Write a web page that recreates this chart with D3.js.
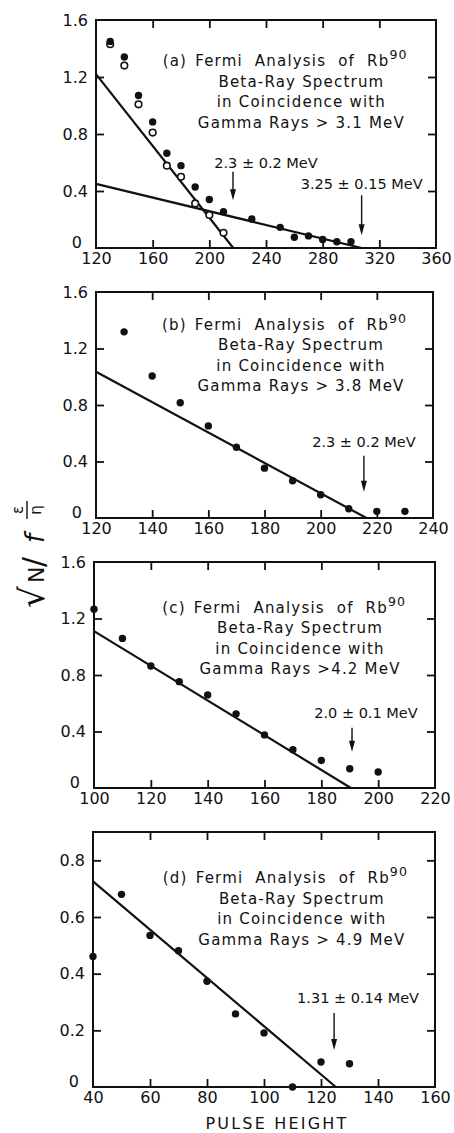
<!DOCTYPE html>
<html>
<head>
<meta charset="utf-8">
<script src="https://cdn.jsdelivr.net/npm/d3@7"></script>
<style>
  body { margin: 0; background: #fff; }
  svg { display: block; }
  text { font-family: "DejaVu Sans", sans-serif; fill: #111; }
</style>
</head>
<body>
<svg id="chart" width="454" height="1133"></svg>
<script>
// panel (a): Gamma > 3.1 MeV, filled and open points
const aFilledX = [130, 140, 150, 160, 170, 180, 190, 200, 210, 230, 250, 260, 270, 280, 290, 300];
const aFilledY = [1.45, 1.34, 1.07, 0.885, 0.665, 0.578, 0.428, 0.34, 0.255, 0.203, 0.145, 0.075, 0.085, 0.06, 0.044, 0.044];
const aOpenX = [130, 140, 150, 160, 170, 180, 190, 200, 210];
const aOpenY = [1.43, 1.28, 1.008, 0.81, 0.578, 0.50, 0.313, 0.232, 0.107];
const aFitSteep = [[120, 1.22], [216.9, 0]];
const aFitShallow = [[120, 0.45], [307.5, 0]];

// panel (b): Gamma > 3.8 MeV
const bX = [130, 140, 150, 160, 170, 180, 190, 200, 210, 220, 230];
const bY = [1.318, 1.005, 0.816, 0.652, 0.501, 0.353, 0.264, 0.165, 0.066, 0.047, 0.047];
const bFit = [[120, 1.035], [216.3, 0]];

// panel (c): Gamma > 4.2 MeV
const cX = [100, 110, 120, 130, 140, 150, 160, 170, 180, 190, 200];
const cY = [1.266, 1.059, 0.864, 0.753, 0.659, 0.525, 0.376, 0.271, 0.195, 0.136, 0.113];
const cFit = [[100, 1.111], [190.4, 0]];

// panel (d): Gamma > 4.9 MeV
const dX = [40, 50, 60, 70, 80, 90, 100, 110, 120, 130];
const dY = [0.461, 0.68, 0.535, 0.481, 0.373, 0.258, 0.191, 0.0, 0.088, 0.082];
const dFit = [[40, 0.726], [125.2, 0]];

// tick values
const xTicksA = [120, 160, 200, 240, 280, 320, 360];
const xTicksB = [120, 140, 160, 180, 200, 220, 240];
const xTicksC = [100, 120, 140, 160, 180, 200, 220];
const xTicksD = [40, 60, 80, 100, 120, 140, 160];
const yTicks16 = [0, 0.4, 0.8, 1.2, 1.6];
const yTicksD = [0, 0.2, 0.4, 0.6, 0.8];

// titles and end-point labels
const gammaLabels = ["Gamma Rays > 3.1 MeV", "Gamma Rays > 3.8 MeV", "Gamma Rays >4.2 MeV", "Gamma Rays > 4.9 MeV"];
const letters = ["(a)", "(b)", "(c)", "(d)"];
const endLabels = [
    [{ text: "2.3 ± 0.2 MeV", x: 240, y: 0.56, ax: 216.7, y0: 0.535, y1: 0.335 },
     { text: "3.25 ± 0.15 MeV", x: 307.5, y: 0.414, ax: 307.5, y0: 0.37, y1: 0.09 }],
    [{ text: "2.3 ± 0.2 MeV", x: 215.4, y: 0.50, ax: 215.4, y0: 0.44, y1: 0.186 }],
    [{ text: "2.0 ± 0.1 MeV", x: 195.7, y: 0.496, ax: 190.8, y0: 0.427, y1: 0.257 }],
    [{ text: "1.31 ± 0.14 MeV", x: 133, y: 0.298, ax: 124.6, y0: 0.261, y1: 0.131 }]
];
const titleAnchors = [[265, 1.277], [193, 1.331], [172.5, 1.239], [113.3, 0.72]];

const svg = d3.select("#chart");
svg.append("rect").attr("width", 454).attr("height", 1133).attr("fill", "#fff");

const panels = [
    { box: [96, 436, 20, 248], xd: [120, 360], yd: [0, 1.6], xt: xTicksA, yt: yTicks16,
      filled: d3.zip(aFilledX, aFilledY), open: d3.zip(aOpenX, aOpenY), fits: [aFitSteep, aFitShallow] },
    { box: [96, 433, 292, 518], xd: [120, 240], yd: [0, 1.6], xt: xTicksB, yt: yTicks16,
      filled: d3.zip(bX, bY), open: [], fits: [bFit] },
    { box: [94, 435, 562, 788], xd: [100, 220], yd: [0, 1.6], xt: xTicksC, yt: yTicks16,
      filled: d3.zip(cX, cY), open: [], fits: [cFit] },
    { box: [93, 435, 832, 1087], xd: [40, 160], yd: [0, 0.9], xt: xTicksD, yt: yTicksD,
      filled: d3.zip(dX, dY), open: [], fits: [dFit] }
];

const fmtY = d => d === 0 ? "0" : d.toFixed(1);
const textSize = 15, textSpacing = 1.2;

panels.forEach((p, i) => {
    const [x0, x1, y0, y1] = p.box;
    const x = d3.scaleLinear().domain(p.xd).range([x0, x1]);
    const y = d3.scaleLinear().domain(p.yd).range([y1, y0]);
    const g = svg.append("g");

    const inner = p.xt.slice(1, -1);
    const innerY = p.yt.filter(v => v > p.yd[0] && v < p.yd[1]);

    // axes with inward ticks
    const bottom = g.append("g").attr("transform", `translate(0,${y1})`)
        .call(d3.axisBottom(x).tickValues(p.xt).tickSize(0).tickPadding(4).tickFormat(d3.format("d")));
    bottom.selectAll("text").attr("font-size", 16).attr("dy", "0.75em");
    g.append("g").attr("transform", `translate(0,${y1})`)
        .call(d3.axisBottom(x).tickValues(inner).tickSize(-8).tickFormat(""));
    g.append("g").attr("transform", `translate(0,${y0})`)
        .call(d3.axisTop(x).tickValues(inner).tickSize(-8).tickFormat(""));
    const left = g.append("g").attr("transform", `translate(${x0},0)`)
        .call(d3.axisLeft(y).tickValues(p.yt).tickSize(0).tickPadding(8).tickFormat(fmtY));
    left.selectAll("text").attr("font-size", 16);
    // zero label sits a little up and left, clear of the first x label
    left.selectAll(".tick").filter(d => d === 0).select("text")
        .attr("dy", "-0.05em").attr("x", -14);
    g.append("g").attr("transform", `translate(${x0},0)`)
        .call(d3.axisLeft(y).tickValues(innerY).tickSize(-8).tickFormat(""));
    g.append("g").attr("transform", `translate(${x1},0)`)
        .call(d3.axisRight(y).tickValues(innerY).tickSize(-8).tickFormat(""));
    g.selectAll(".domain").remove();
    g.selectAll(".tick line").attr("stroke", "#111").attr("stroke-width", 1.8);

    g.append("rect").attr("x", x0).attr("y", y0).attr("width", x1 - x0).attr("height", y1 - y0)
        .attr("fill", "none").attr("stroke", "#111").attr("stroke-width", 2);

    // fitted lines
    const line = d3.line().x(d => x(d[0])).y(d => y(d[1]));
    p.fits.forEach(f => {
        g.append("path").attr("d", line(f)).attr("fill", "none")
            .attr("stroke", "#111").attr("stroke-width", 2.2);
    });

    // points
    g.selectAll(".op").data(p.open).enter().append("circle")
        .attr("cx", d => x(d[0])).attr("cy", d => y(d[1])).attr("r", 3.3)
        .attr("fill", "#fff").attr("stroke", "#111").attr("stroke-width", 1.6);
    g.selectAll(".fp").data(p.filled).enter().append("circle")
        .attr("cx", d => x(d[0])).attr("cy", d => y(d[1])).attr("r", 3.7)
        .attr("fill", "#111");

    // title block
    const [tx, ty] = titleAnchors[i];
    const cx = x(tx), by = y(ty);
    const t1 = g.append("text").attr("x", cx).attr("y", by).attr("text-anchor", "middle")
        .attr("font-size", textSize).attr("letter-spacing", textSpacing).attr("word-spacing", 6);
    t1.append("tspan").text("Fermi Analysis of Rb");
    t1.append("tspan").attr("dy", -7).attr("font-size", 12.5).text("90");
    const bb = t1.node().getBBox();
    g.append("text").attr("x", bb.x - 8).attr("y", by).attr("text-anchor", "end")
        .attr("font-size", textSize).attr("letter-spacing", textSpacing).text(letters[i]);
    ["Beta-Ray Spectrum", "in Coincidence with", gammaLabels[i]].forEach((s, k) => {
        g.append("text").attr("x", cx).attr("y", by + 20.5 * (k + 1)).attr("text-anchor", "middle")
            .attr("font-size", textSize).attr("letter-spacing", textSpacing).text(s);
    });

    // end-point arrows
    endLabels[i].forEach(e => {
        g.append("text").attr("x", x(e.x)).attr("y", y(e.y)).attr("text-anchor", "middle")
            .attr("font-size", 14.5).text(e.text);
        const ax = x(e.ax), ya = y(e.y0), yb = y(e.y1);
        g.append("line").attr("x1", ax).attr("x2", ax).attr("y1", ya).attr("y2", yb - 4)
            .attr("stroke", "#111").attr("stroke-width", 1.4);
        g.append("path").attr("d", `M${ax - 3},${yb - 11}L${ax + 3},${yb - 11}L${ax},${yb}Z`)
            .attr("fill", "#111");
    });

    if (i === 3) {
        g.append("text").attr("x", (x0 + x1) / 2 + 13).attr("y", 1129).attr("text-anchor", "middle")
            .attr("font-size", 16).attr("letter-spacing", 2.2).text("PULSE HEIGHT");
    }
});

// y-axis label: sqrt(N / f eps/eta), rotated
const yl = svg.append("g").attr("transform", "translate(44,556) rotate(-90)");
yl.append("text").attr("x", -52).attr("y", 0).attr("font-size", 34).text("√");
yl.append("text").attr("x", -27).attr("y", 0).attr("font-size", 22).text("N");
yl.append("text").attr("x", -11).attr("y", 0).attr("font-size", 30).text("/");
yl.append("text").attr("x", 13).attr("y", 0).attr("font-size", 26).attr("font-style", "italic").text("f");
yl.append("text").attr("x", 46).attr("y", -21).attr("text-anchor", "middle").attr("font-size", 15).text("ε");
yl.append("line").attr("x1", 37).attr("x2", 55).attr("y1", -17).attr("y2", -17)
    .attr("stroke", "#111").attr("stroke-width", 1.4);
yl.append("text").attr("x", 46).attr("y", -3).attr("text-anchor", "middle").attr("font-size", 15).text("η");
</script>
</body>
</html>
